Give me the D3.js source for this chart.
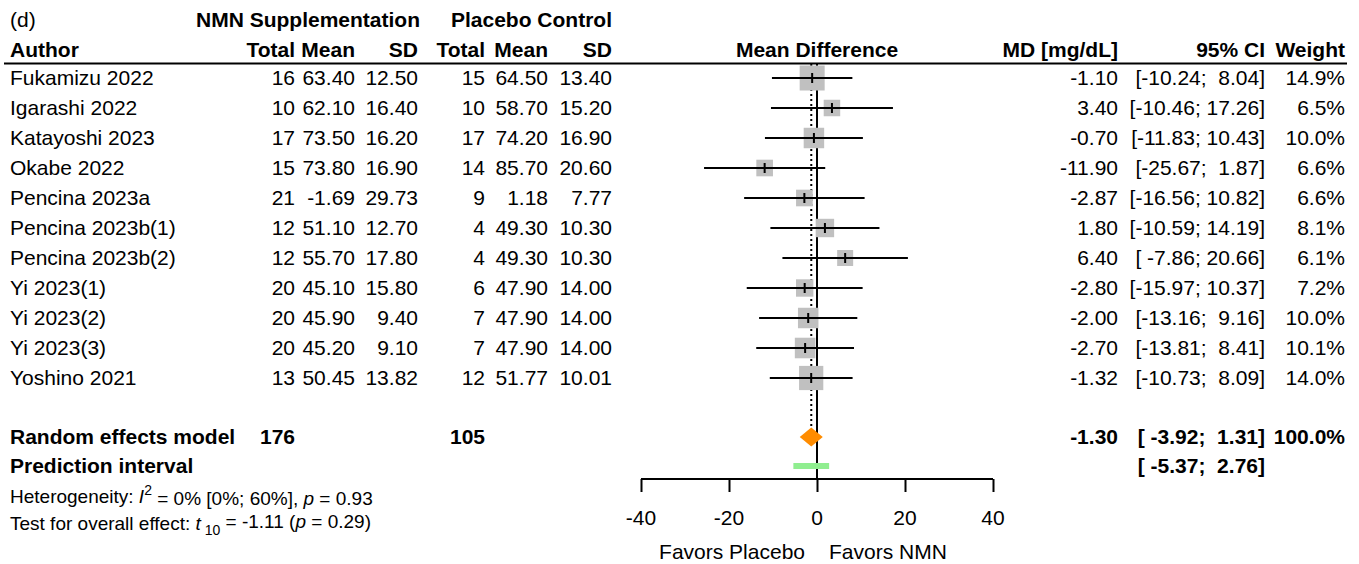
<!DOCTYPE html>
<html>
  <head>
    <style>
      html, body {
        padding: 0;
        margin: 0;
        overflow: hidden;
        background: #ffffff;
      }
      svg text {
        font-family: "Liberation Sans", Arial, sans-serif;
        font-size: 21px;
        fill: #000;
        white-space: pre;
      }
      .bold { font-weight: bold; }
      .small { font-size: 19px; }
    </style>
  </head>
  <body>
    <div id="chart"></div>
    <script src="https://cdnjs.cloudflare.com/ajax/libs/d3/7.8.5/d3.min.js"></script>
    <script>
      // study data
      let authors = ['Fukamizu 2022', 'Igarashi 2022', 'Katayoshi 2023', 'Okabe 2022', 'Pencina 2023a',
        'Pencina 2023b(1)', 'Pencina 2023b(2)', 'Yi 2023(1)', 'Yi 2023(2)', 'Yi 2023(3)', 'Yoshino 2021']
      let nmnTotal = [16, 10, 17, 15, 21, 12, 12, 20, 20, 20, 13]
      let nmnMean = ['63.40', '62.10', '73.50', '73.80', '-1.69', '51.10', '55.70', '45.10', '45.90', '45.20', '50.45']
      let nmnSD = ['12.50', '16.40', '16.20', '16.90', '29.73', '12.70', '17.80', '15.80', '9.40', '9.10', '13.82']
      let plTotal = [15, 10, 17, 14, 9, 4, 4, 6, 7, 7, 12]
      let plMean = ['64.50', '58.70', '74.20', '85.70', '1.18', '49.30', '49.30', '47.90', '47.90', '47.90', '51.77']
      let plSD = ['13.40', '15.20', '16.90', '20.60', '7.77', '10.30', '10.30', '14.00', '14.00', '14.00', '10.01']
      let md = [-1.10, 3.40, -0.70, -11.90, -2.87, 1.80, 6.40, -2.80, -2.00, -2.70, -1.32]
      let ciLow = [-10.24, -10.46, -11.83, -25.67, -16.56, -10.59, -7.86, -15.97, -13.16, -13.81, -10.73]
      let ciHigh = [8.04, 17.26, 10.43, 1.87, 10.82, 14.19, 20.66, 10.37, 9.16, 8.41, 8.09]
      let weight = [14.9, 6.5, 10.0, 6.6, 6.6, 8.1, 6.1, 7.2, 10.0, 10.1, 14.0]

      // pooled results
      let pooled = { md: -1.30, lo: -3.92, hi: 1.31, nNmn: 176, nPl: 105 }
      let predInt = [-5.37, 2.76]
      let axisTicks = [-40, -20, 0, 20, 40]

      let width = 1359
      let height = 564

      let svg = d3.select('#chart').append('svg')
        .attr('width', width)
        .attr('height', height)

      let x = d3.scaleLinear().domain([-40, 40]).range([641, 993])
      let rowY = d3.scaleLinear().domain([0, 1]).range([78, 108])
      let boxSize = d3.scaleSqrt().domain([0, 14.9]).range([0, 25])

      // column right edges
      let col = { total1: 295, mean1: 355, sd1: 418, total2: 485, mean2: 548, sd2: 612,
        md: 1118, ci: 1265, w: 1345 }

      function txt(xp, yp, s, anchor, cls) {
        return svg.append('text')
          .attr('x', xp).attr('y', yp)
          .attr('dy', '0.35em')
          .attr('text-anchor', anchor || 'start')
          .attr('class', cls || null)
          .text(s)
      }

      function fmt(v, w) {
        let s = v.toFixed(2)
        while (s.length < w) s = ' ' + s
        return s
      }
      function ciText(lo, hi) {
        return '[' + fmt(lo, 6) + '; ' + fmt(hi, 5) + ']'
      }

      // headers
      txt(10, 20, '(d)')
      txt(420, 20, 'NMN Supplementation', 'end', 'bold')
      txt(612, 20, 'Placebo Control', 'end', 'bold')
      txt(10, 50, 'Author', 'start', 'bold')
      txt(col.total1, 50, 'Total', 'end', 'bold')
      txt(col.mean1, 50, 'Mean', 'end', 'bold')
      txt(col.sd1, 50, 'SD', 'end', 'bold')
      txt(col.total2, 50, 'Total', 'end', 'bold')
      txt(col.mean2, 50, 'Mean', 'end', 'bold')
      txt(col.sd2, 50, 'SD', 'end', 'bold')
      txt(x(0), 50, 'Mean Difference', 'middle', 'bold')
      txt(col.md, 50, 'MD [mg/dL]', 'end', 'bold')
      txt(col.ci, 50, '95% CI', 'end', 'bold')
      txt(col.w, 50, 'Weight', 'end', 'bold')

      svg.append('line')
        .attr('x1', 4).attr('x2', 1347)
        .attr('y1', 63.5).attr('y2', 63.5)
        .attr('stroke', '#000').attr('stroke-width', 2)

      // reference lines
      let yRE = 437
      let yPI = 466
      let yAxis = 479
      svg.append('line')
        .attr('x1', x(0)).attr('x2', x(0))
        .attr('y1', 64).attr('y2', yAxis)
        .attr('stroke', '#000').attr('stroke-width', 2)
      svg.append('line')
        .attr('x1', x(pooled.md)).attr('x2', x(pooled.md))
        .attr('y1', 64).attr('y2', yRE - 9)
        .attr('stroke', '#000').attr('stroke-width', 2)
        .attr('stroke-dasharray', '2,3')

      // study rows
      authors.forEach(function(a, i) {
        let y = rowY(i)
        txt(10, y, a)
        txt(col.total1, y, String(nmnTotal[i]), 'end')
        txt(col.mean1, y, nmnMean[i], 'end')
        txt(col.sd1, y, nmnSD[i], 'end')
        txt(col.total2, y, String(plTotal[i]), 'end')
        txt(col.mean2, y, plMean[i], 'end')
        txt(col.sd2, y, plSD[i], 'end')
        txt(col.md, y, md[i].toFixed(2), 'end')
        txt(col.ci, y, ciText(ciLow[i], ciHigh[i]), 'end')
        txt(col.w, y, weight[i].toFixed(1) + '%', 'end')

        let s = boxSize(weight[i])
        svg.append('rect')
          .attr('x', x(md[i]) - s / 2).attr('y', y - s / 2)
          .attr('width', s).attr('height', s)
          .attr('fill', '#c0c0c0')
        svg.append('line')
          .attr('x1', x(ciLow[i])).attr('x2', x(ciHigh[i]))
          .attr('y1', y).attr('y2', y)
          .attr('stroke', '#000').attr('stroke-width', 2)
        svg.append('line')
          .attr('x1', x(md[i])).attr('x2', x(md[i]))
          .attr('y1', y - 5).attr('y2', y + 5)
          .attr('stroke', '#000').attr('stroke-width', 2)
      })

      // random effects model
      txt(10, yRE, 'Random effects model', 'start', 'bold')
      txt(col.total1, yRE, String(pooled.nNmn), 'end', 'bold')
      txt(col.total2, yRE, String(pooled.nPl), 'end', 'bold')
      txt(col.md, yRE, pooled.md.toFixed(2), 'end', 'bold')
      txt(col.ci, yRE, ciText(pooled.lo, pooled.hi), 'end', 'bold')
      txt(col.w, yRE, '100.0%', 'end', 'bold')
      svg.append('path')
        .attr('d', 'M' + x(pooled.lo) + ',' + yRE +
          'L' + x(pooled.md) + ',' + (yRE - 9.5) +
          'L' + x(pooled.hi) + ',' + yRE +
          'L' + x(pooled.md) + ',' + (yRE + 9.5) + 'Z')
        .attr('fill', '#ff8c00')

      // prediction interval
      txt(10, yPI, 'Prediction interval', 'start', 'bold')
      txt(col.ci, yPI, ciText(predInt[0], predInt[1]), 'end', 'bold')
      svg.append('rect')
        .attr('x', x(predInt[0])).attr('y', yPI - 3)
        .attr('width', x(predInt[1]) - x(predInt[0])).attr('height', 6)
        .attr('fill', '#90ee90')

      // heterogeneity / test
      let het = svg.append('text').attr('x', 10).attr('y', 496).attr('dy', '0.35em').attr('class', 'small')
      het.append('tspan').text('Heterogeneity: ')
      het.append('tspan').attr('font-style', 'italic').text('I')
      het.append('tspan').attr('font-size', '14px').attr('dy', '-0.55em').text('2')
      het.append('tspan').attr('dy', '0.55em').text(' = 0% [0%; 60%], ')
      het.append('tspan').attr('font-style', 'italic').text('p')
      het.append('tspan').text(' = 0.93')

      let test = svg.append('text').attr('x', 10).attr('y', 523).attr('dy', '0.35em').attr('class', 'small')
      test.append('tspan').text('Test for overall effect: ')
      test.append('tspan').attr('font-style', 'italic').text('t')
      test.append('tspan').attr('font-size', '14px').attr('dy', '0.35em').text(' 10')
      test.append('tspan').attr('dy', '-0.35em').text(' = -1.11 (')
      test.append('tspan').attr('font-style', 'italic').text('p')
      test.append('tspan').text(' = 0.29)')

      // axis
      let axis = d3.axisBottom(x).tickValues(axisTicks).tickSize(-13).tickSizeOuter(0).tickPadding(0)
      let g = svg.append('g')
        .attr('transform', 'translate(0,' + (yAxis + 13) + ')')
        .call(axis)
      g.select('.domain').remove()
      g.selectAll('.tick line').attr('stroke', '#000').attr('stroke-width', 2)
      g.selectAll('.tick text').remove()
      svg.append('line')
        .attr('x1', x(-40)).attr('x2', x(40))
        .attr('y1', yAxis).attr('y2', yAxis)
        .attr('stroke', '#000').attr('stroke-width', 2)
      axisTicks.forEach(function(t) {
        txt(x(t), 518, String(t), 'middle')
      })

      txt(x(0) - 12, 552, 'Favors Placebo', 'end')
      txt(x(0) + 12, 552, 'Favors NMN', 'start')
    </script>
  </body>
</html>
